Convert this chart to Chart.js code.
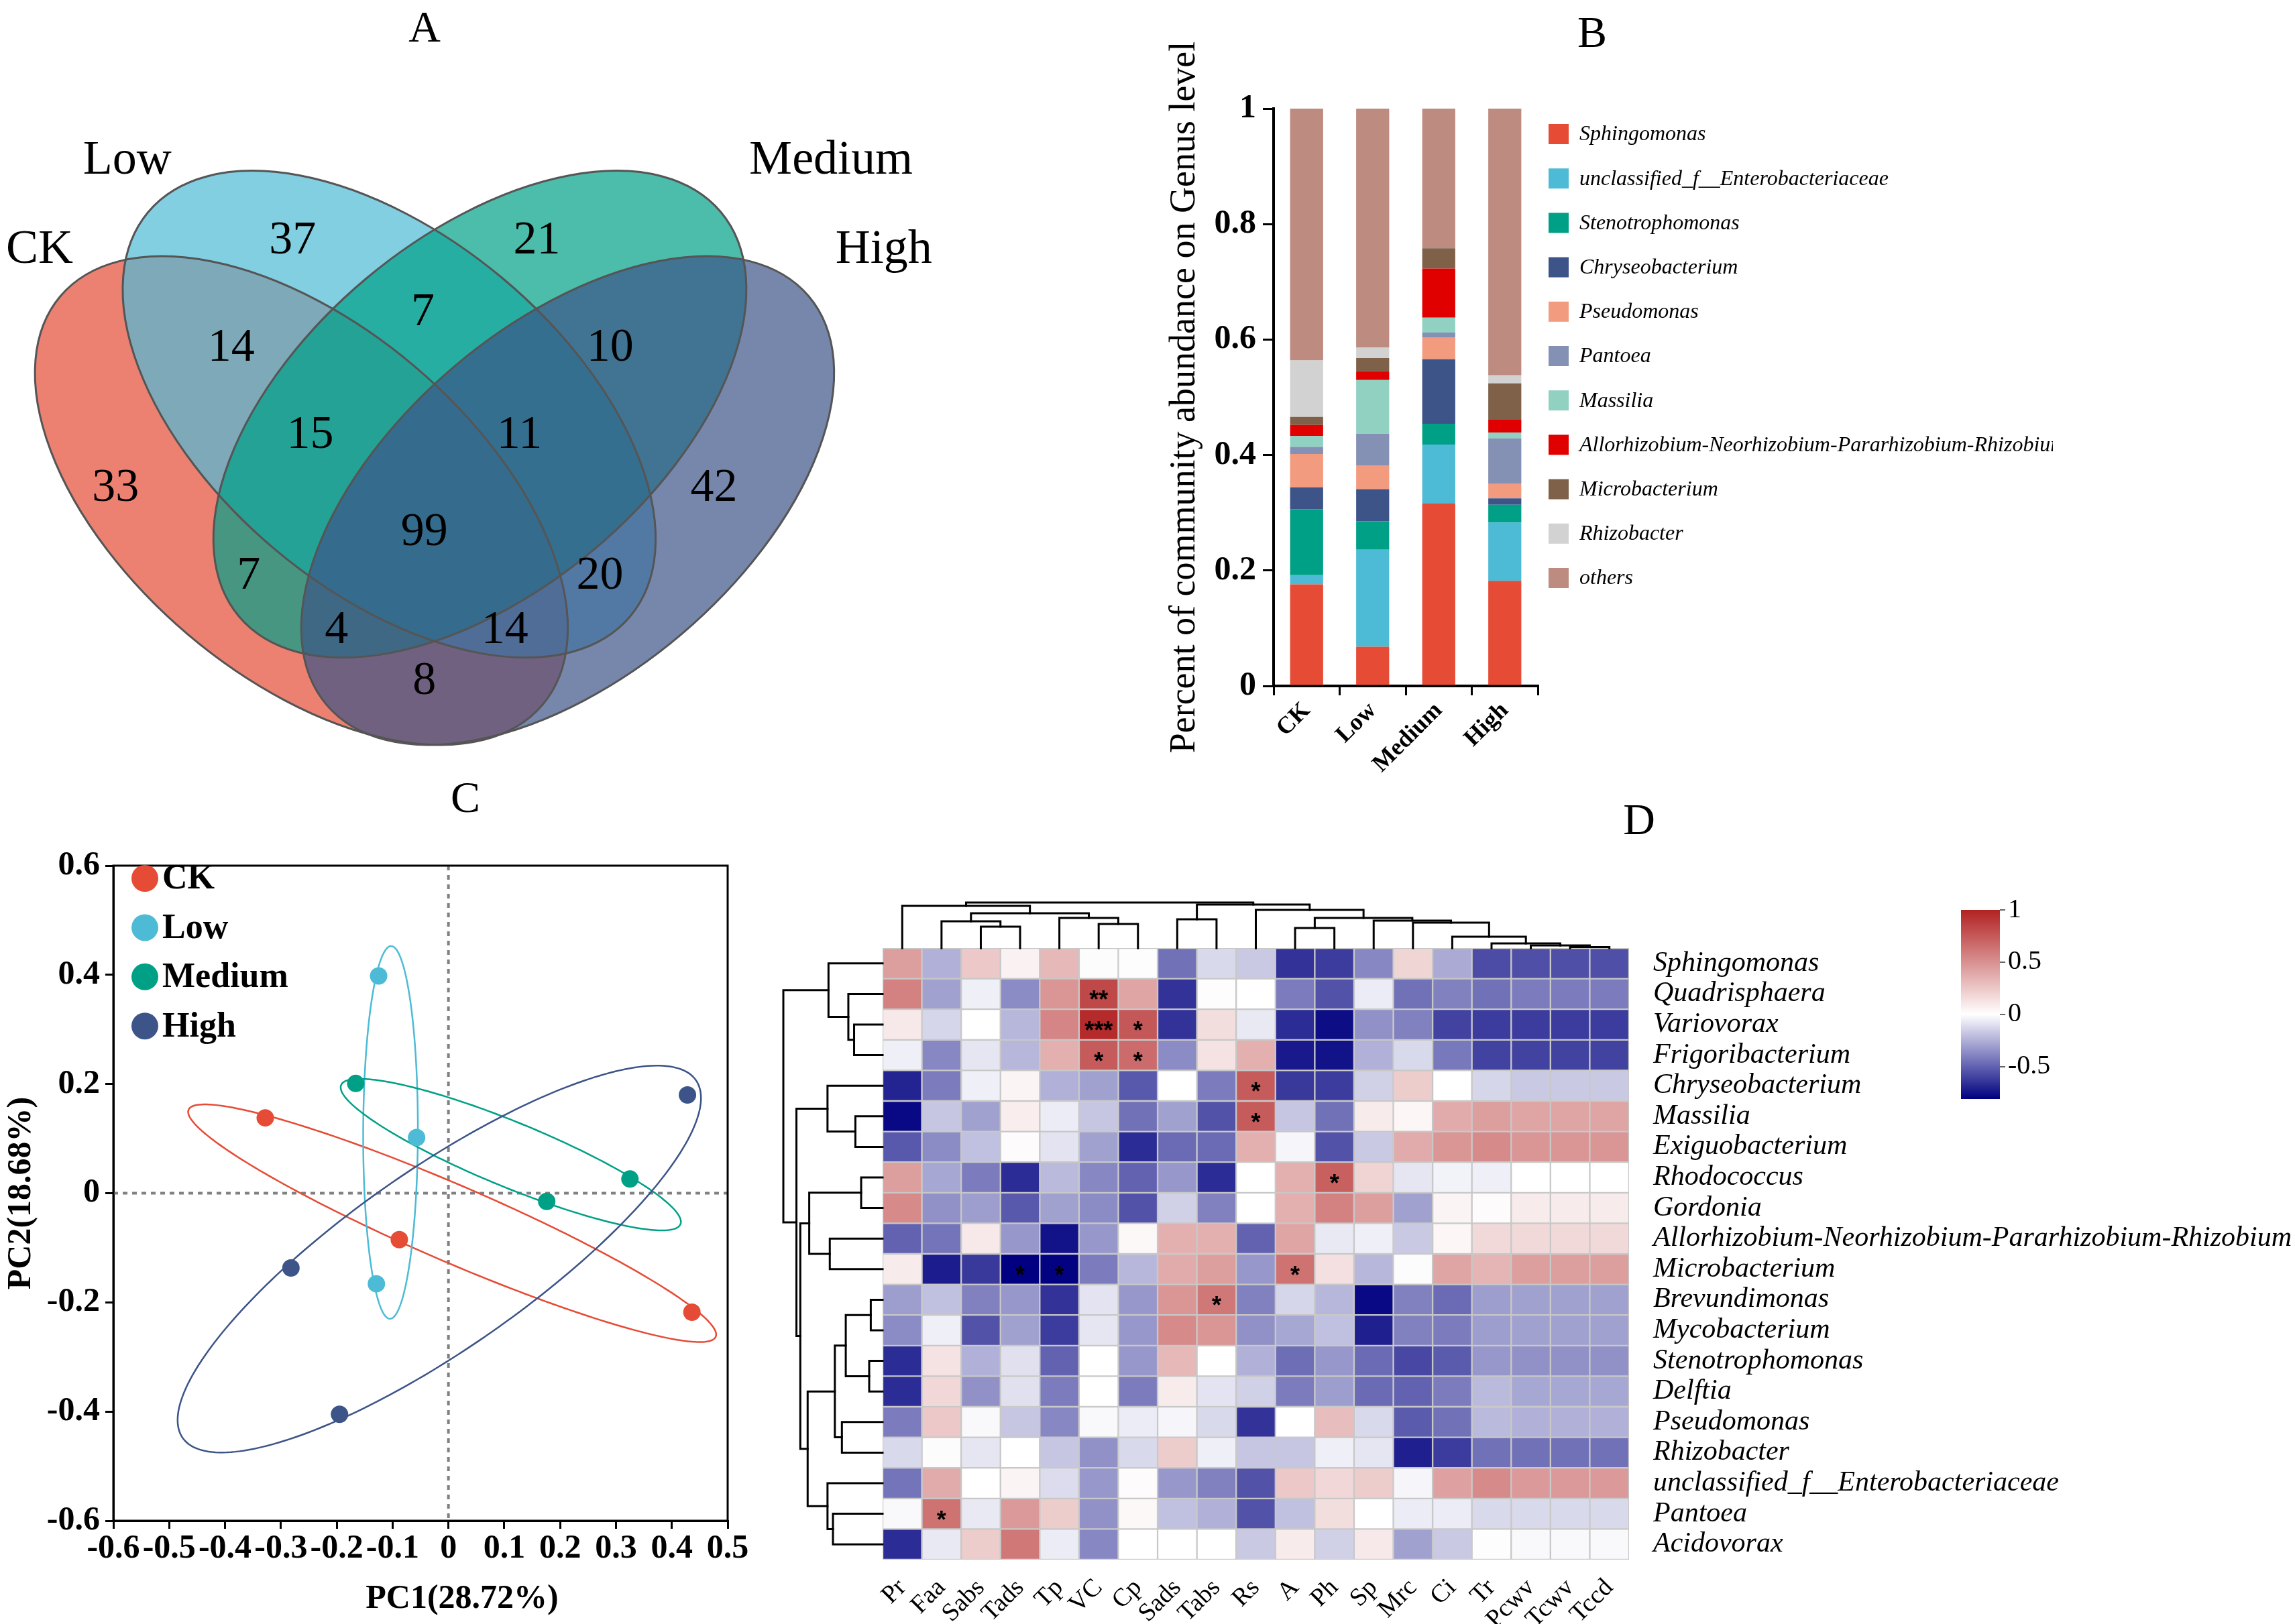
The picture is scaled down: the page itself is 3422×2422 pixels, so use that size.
<!DOCTYPE html>
<html>
<head>
<meta charset="utf-8">
<script src="https://cdn.jsdelivr.net/npm/chart.js@4.4.1/dist/chart.umd.min.js"></script>
<style>
  html, body { margin: 0; padding: 0; background: #fff; }
  body { position: relative; width: 3422px; height: 2422px; overflow: hidden; }
  canvas { position: absolute; }
  .tag { position: absolute; font: 66px "Liberation Serif", serif; transform: translate(-50%, -50%); }
</style>
</head>
<body>
<div class="tag" style="left:633px;top:40px">A</div>
<div class="tag" style="left:2374px;top:48px">B</div>
<div class="tag" style="left:694px;top:1189px">C</div>
<div class="tag" style="left:2444px;top:1222px">D</div>
<script>
// ---------- A : Venn ----------
const vennSets = ["CK", "Low", "Medium", "High"];
const vennRegions = ["Low", "Medium", "Low&Medium", "CK&Low", "Medium&High", "CK&Low&Medium", "Low&Medium&High",
  "CK", "High", "CK&Low&Medium&High", "CK&Medium", "Low&High", "CK&Medium&High", "CK&Low&High", "CK&High"];
const vennCounts = [37, 21, 7, 14, 10, 15, 11, 33, 42, 99, 7, 20, 4, 14, 8];

// ---------- B : genus composition ----------
const groups = ["CK", "Low", "Medium", "High"];
const genera = ["Sphingomonas", "unclassified_f__Enterobacteriaceae", "Stenotrophomonas", "Chryseobacterium",
  "Pseudomonas", "Pantoea", "Massilia", "Allorhizobium-Neorhizobium-Pararhizobium-Rhizobium",
  "Microbacterium", "Rhizobacter", "others"];
const sphingomonas = [0.176, 0.068, 0.316, 0.182];
const unclassifiedEntero = [0.016, 0.168, 0.102, 0.101];
const stenotrophomonas = [0.114, 0.049, 0.036, 0.031];
const chryseobacterium = [0.038, 0.056, 0.112, 0.011];
const pseudomonas = [0.058, 0.041, 0.038, 0.025];
const pantoea = [0.012, 0.055, 0.008, 0.079];
const massilia = [0.019, 0.093, 0.026, 0.010];
const allorhizobium = [0.019, 0.015, 0.085, 0.023];
const microbacterium = [0.014, 0.023, 0.035, 0.062];
const rhizobacter = [0.098, 0.018, 0.0, 0.014];
const others = [0.436, 0.414, 0.242, 0.462];
const abundance = [sphingomonas, unclassifiedEntero, stenotrophomonas, chryseobacterium, pseudomonas,
  pantoea, massilia, allorhizobium, microbacterium, rhizobacter, others];
const barTicks = [0, 0.2, 0.4, 0.6, 0.8, 1];

// ---------- C : PCA ----------
const pcCK = [[-0.328, 0.138], [-0.088, -0.085], [0.436, -0.218]];
const pcLow = [[-0.125, 0.398], [-0.057, 0.102], [-0.129, -0.166]];
const pcMedium = [[-0.166, 0.201], [0.176, -0.015], [0.325, 0.026]];
const pcHigh = [[0.428, 0.180], [-0.282, -0.137], [-0.195, -0.405]];
const pcTicksX = [-0.6, -0.5, -0.4, -0.3, -0.2, -0.1, 0, 0.1, 0.2, 0.3, 0.4, 0.5];
const pcTicksY = [-0.6, -0.4, -0.2, 0, 0.2, 0.4, 0.6];

// ---------- D : correlation heatmap ----------
const heatFactors = ["Pr", "Faa", "Sabs", "Tads", "Tp", "VC", "Cp", "Sads", "Tabs", "Rs", "A", "Ph", "Sp", "Mrc", "Ci", "Tr", "Pcwv", "Tcwv", "Tccd"];
const heatGenera = ["Sphingomonas", "Quadrisphaera", "Variovorax", "Frigoribacterium", "Chryseobacterium", "Massilia",
  "Exiguobacterium", "Rhodococcus", "Gordonia", "Allorhizobium-Neorhizobium-Pararhizobium-Rhizobium", "Microbacterium",
  "Brevundimonas", "Mycobacterium", "Stenotrophomonas", "Delftia", "Pseudomonas", "Rhizobacter",
  "unclassified_f__Enterobacteriaceae", "Pantoea", "Acidovorax"];
const heatValues = [
  [0.44, -0.25, 0.25, 0.06, 0.32, -0.01, 0.01, -0.45, -0.12, -0.17, -0.65, -0.62, -0.38, 0.19, -0.27, -0.57, -0.56, -0.56, -0.56],
  [0.57, -0.30, -0.05, -0.37, 0.48, 0.83, 0.41, -0.65, 0.01, 0.0, -0.42, -0.55, -0.06, -0.45, -0.40, -0.45, -0.42, -0.42, -0.42],
  [0.10, -0.13, 0.0, -0.23, 0.55, 0.96, 0.76, -0.65, 0.15, -0.07, -0.67, -0.77, -0.35, -0.40, -0.60, -0.62, -0.62, -0.62, -0.62],
  [-0.05, -0.38, -0.08, -0.23, 0.36, 0.74, 0.67, -0.37, 0.13, 0.36, -0.73, -0.75, -0.25, -0.12, -0.43, -0.60, -0.60, -0.60, -0.60],
  [-0.70, -0.42, -0.05, 0.05, -0.25, -0.30, -0.53, 0.0, -0.42, 0.74, -0.63, -0.62, -0.15, 0.23, 0.0, -0.13, -0.17, -0.17, -0.17],
  [-0.78, -0.18, -0.30, 0.08, -0.06, -0.18, -0.45, -0.30, -0.55, 0.74, -0.18, -0.45, 0.09, 0.04, 0.38, 0.44, 0.41, 0.41, 0.41],
  [-0.53, -0.37, -0.20, 0.02, -0.09, -0.30, -0.67, -0.47, -0.47, 0.36, -0.03, -0.55, -0.17, 0.38, 0.48, 0.53, 0.48, 0.48, 0.48],
  [0.44, -0.28, -0.42, -0.67, -0.22, -0.38, -0.50, -0.33, -0.67, 0.0, 0.36, 0.72, 0.20, -0.08, -0.04, -0.05, 0.0, 0.0, 0.0],
  [0.53, -0.35, -0.31, -0.53, -0.30, -0.37, -0.55, -0.15, -0.40, 0.0, 0.36, 0.57, 0.44, -0.30, 0.05, 0.02, 0.09, 0.09, 0.09],
  [-0.50, -0.44, 0.10, -0.33, -0.75, -0.33, 0.03, 0.36, 0.36, -0.50, 0.41, -0.07, -0.05, -0.17, 0.04, 0.17, 0.17, 0.17, 0.17],
  [0.09, -0.72, -0.63, -0.81, -0.80, -0.42, -0.23, 0.38, 0.44, -0.33, 0.64, 0.14, -0.23, -0.01, 0.41, 0.34, 0.44, 0.44, 0.44],
  [-0.31, -0.20, -0.40, -0.33, -0.65, -0.09, -0.33, 0.48, 0.61, -0.40, -0.13, -0.23, -0.78, -0.40, -0.47, -0.31, -0.30, -0.30, -0.30],
  [-0.37, -0.05, -0.55, -0.30, -0.62, -0.08, -0.33, 0.53, 0.48, -0.35, -0.28, -0.20, -0.71, -0.40, -0.42, -0.31, -0.30, -0.30, -0.30],
  [-0.67, 0.13, -0.25, -0.10, -0.50, 0.0, -0.33, 0.32, 0.0, -0.25, -0.46, -0.33, -0.47, -0.58, -0.52, -0.33, -0.35, -0.35, -0.35],
  [-0.67, 0.18, -0.35, -0.10, -0.42, 0.0, -0.42, 0.09, -0.09, -0.15, -0.42, -0.31, -0.47, -0.50, -0.42, -0.22, -0.28, -0.28, -0.28],
  [-0.42, 0.25, -0.02, -0.18, -0.38, -0.02, -0.06, -0.03, -0.12, -0.65, 0.0, 0.30, -0.12, -0.52, -0.45, -0.22, -0.25, -0.25, -0.25],
  [-0.12, -0.01, -0.08, 0.0, -0.18, -0.35, -0.12, 0.23, -0.05, -0.18, -0.18, -0.05, -0.08, -0.71, -0.62, -0.45, -0.45, -0.45, -0.45],
  [-0.44, 0.38, 0.0, 0.05, -0.11, -0.33, 0.02, -0.33, -0.40, -0.55, 0.25, 0.18, 0.23, -0.03, 0.43, 0.53, 0.46, 0.46, 0.46],
  [-0.02, 0.64, -0.07, 0.46, 0.23, -0.35, 0.03, -0.20, -0.25, -0.55, -0.20, 0.15, 0.0, -0.06, -0.06, -0.12, -0.12, -0.12, -0.12],
  [-0.67, -0.07, 0.23, 0.61, -0.06, -0.38, 0.0, 0.0, 0.0, -0.17, 0.09, -0.15, 0.10, -0.30, -0.17, 0.01, -0.02, -0.02, -0.02],
];
const heatStars = [
  ["Quadrisphaera", "VC", "**"], ["Variovorax", "VC", "***"], ["Variovorax", "Cp", "*"],
  ["Frigoribacterium", "VC", "*"], ["Frigoribacterium", "Cp", "*"], ["Chryseobacterium", "Rs", "*"],
  ["Massilia", "Rs", "*"], ["Rhodococcus", "Ph", "*"], ["Microbacterium", "Tads", "*"],
  ["Microbacterium", "Tp", "*"], ["Microbacterium", "A", "*"], ["Brevundimonas", "Tabs", "*"],
  ["Pantoea", "Faa", "*"],
];
// clustering trees: [height, left, right], leaves are indices
const colTree = [1.0,
  [0.926, 0, [0.765, [0.588, 1, [0.471, 2, 3]], [0.662, 4, [0.529, 5, 6]]]],
  [0.956, [0.632, 7, 8], [0.838, 9, [0.662, [0.441, 10, 11],
    [0.603, 12, [0.559, 13, [0.25, 14, [0.103, 15, [0.059, 16, [0.022, 17, 18]]]]]]]]]];
const rowTree = [1.0,
  [0.545, 0, [0.345, 1, [0.287, 2, 3]]],
  [0.868, [0.555, 4, [0.274, 5, 6]],
    [0.829, [0.739, [0.216, 7, 8], [0.532, 9, 10]],
      [0.755, [0.481, [0.371, [0.119, 11, 12], [0.135, 13, 14]], [0.41, 15, 16]],
        [0.555, 17, [0.5, 18, 19]]]]]];
const colorMin = -0.81, colorMax = 1;
const colorTicks = [-0.5, 0, 0.5, 1];

// ---------- layout / style ----------
const BOX = {
  venn: [0, 0, 1418, 1135],
  bars: [1730, 0, 1370, 1180],
  pca: [0, 1150, 1150, 1272],
  heat: [1150, 1280, 2272, 1142],
  cbar: [2900, 1320, 250, 360],
};
const vennColors = ["#E64B35", "#4DBBD5", "#00A087", "#3C5488"];
const vennShape = {
  CK: { cx: 206, cy: 342, a: 216, b: 120, rot: 40.3 },
  Low: { cx: 266, cy: 283, a: 215, b: 121, rot: 40 },
  Medium: { cx: 328, cy: 283, a: 215, b: 121, rot: -40 },
  High: { cx: 388, cy: 342, a: 216, b: 120, rot: -40.3 },
};
const vennNamePos = { CK: [27, 171], Low: [87, 110], Medium: [568, 110], High: [604, 171] };
const vennAnchor = {
  "Low": [200, 163], "Medium": [367, 163], "Low&Medium": [289, 212], "CK&Low": [158, 236],
  "Medium&High": [417, 236], "CK&Low&Medium": [212, 296], "Low&Medium&High": [355, 296],
  "CK": [79, 332], "High": [488, 332], "CK&Low&Medium&High": [290, 362], "CK&Medium": [170, 392],
  "Low&High": [410, 392], "CK&Medium&High": [230, 429], "CK&Low&High": [345, 429], "CK&High": [290, 464],
};
const barColors = ["#E64B35", "#4DBBD5", "#00A087", "#3C5488", "#F39B7F", "#8491B4", "#91D1C2",
  "#E00000", "#7E6148", "#D2D2D2", "#BD8B80"];
const pcColors = ["#E64B35", "#4DBBD5", "#00A087", "#3C5488"];
const ELLIPSE_SCALE = 1.21;
const SERIF = '"Liberation Serif", "Times New Roman", serif';

Chart.defaults.font.family = SERIF;
Chart.defaults.color = "#000";
Chart.defaults.animation = false;
Chart.defaults.responsive = false;
Chart.defaults.devicePixelRatio = 1;
Chart.defaults.events = [];
Chart.defaults.plugins.legend.display = false;
Chart.defaults.plugins.tooltip.enabled = false;

function Place(id, box) {
  const [left, top, w, h] = box;
  const c = document.createElement("canvas");
  c.id = id;
  c.width = w;
  c.height = h;
  c.style.left = left + "px";
  c.style.top = top + "px";
  c.style.width = w + "px";
  c.style.height = h + "px";
  document.body.appendChild(c);
  return c;
}

function Main() {
  SetVenn();
  SetBars();
  SetPca();
  SetHeatmap();
  SetColorBar();
}

function SetVenn() {
  const canvas = Place("venn", BOX.venn);
  new Chart(canvas, {
    type: "scatter",
    data: {
      datasets: [{ data: vennRegions.map((r) => ({ x: vennAnchor[r][0], y: vennAnchor[r][1] })), pointRadius: 0 }],
    },
    options: {
      scales: {
        x: { display: false, min: 0, max: 650 },
        y: { display: false, min: 0, max: 520, reverse: true },
      },
    },
    plugins: [{
      id: "vennShapes",
      beforeDatasetsDraw(chart) {
        const { ctx, scales: { x, y } } = chart;
        const k = x.getPixelForValue(1) - x.getPixelForValue(0);
        const path = (s) => {
          const e = vennShape[s];
          ctx.beginPath();
          ctx.ellipse(x.getPixelForValue(e.cx), y.getPixelForValue(e.cy), e.a * k, e.b * k, (e.rot * Math.PI) / 180, 0, Math.PI * 2);
        };
        ctx.save();
        ctx.globalAlpha = 0.7;
        vennSets.forEach((s, i) => {
          path(s);
          ctx.fillStyle = vennColors[i];
          ctx.fill();
        });
        ctx.globalAlpha = 1;
        ctx.strokeStyle = "#555";
        ctx.lineWidth = 3;
        vennSets.forEach((s) => {
          path(s);
          ctx.stroke();
        });
        ctx.fillStyle = "#000";
        ctx.textAlign = "center";
        ctx.textBaseline = "middle";
        ctx.font = "72px " + SERIF;
        vennSets.forEach((s) => ctx.fillText(s, x.getPixelForValue(vennNamePos[s][0]), y.getPixelForValue(vennNamePos[s][1])));
        ctx.restore();
      },
      afterDatasetsDraw(chart) {
        const { ctx } = chart;
        ctx.save();
        ctx.fillStyle = "#000";
        ctx.textAlign = "center";
        ctx.textBaseline = "middle";
        ctx.font = "70px " + SERIF;
        chart.getDatasetMeta(0).data.forEach((pt, i) => ctx.fillText(String(vennCounts[i]), pt.x, pt.y + 4));
        ctx.restore();
      },
    }],
  });
}

function SetBars() {
  const canvas = Place("bars", BOX.bars);
  new Chart(canvas, {
    type: "bar",
    data: {
      labels: groups,
      datasets: genera.map((g, i) => ({
        label: g,
        data: abundance[i],
        backgroundColor: barColors[i],
        borderWidth: 0,
        barPercentage: 1,
        categoryPercentage: 0.5,
      })),
    },
    options: {
      layout: { padding: { top: 162, right: 807, left: 0, bottom: 0 } },
      scales: {
        x: {
          stacked: true,
          grid: { drawOnChartArea: false, drawTicks: true, tickLength: 14, lineWidth: 3, color: "#000" },
          border: { color: "#000", width: 4 },
          ticks: { font: { size: 36, weight: "bold" }, minRotation: 45, maxRotation: 45, padding: 2, autoSkip: false },
          afterFit: (s) => { s.height = 157; },
        },
        y: {
          stacked: true,
          min: 0,
          max: 1,
          afterBuildTicks: (ax) => { ax.ticks = barTicks.map((v) => ({ value: v })); },
          grid: { drawOnChartArea: false, drawTicks: true, tickLength: 16, lineWidth: 3, color: "#000" },
          border: { color: "#000", width: 4 },
          ticks: { font: { size: 50, weight: "bold" }, padding: 10, callback: (v) => String(v) },
          title: { display: true, text: "Percent of community abundance on Genus level", font: { size: 54 }, padding: { top: 4, bottom: 0 } },
          afterFit: (s) => { s.width = 169; },
        },
      },
    },
    plugins: [{
      id: "barLegend",
      afterDraw(chart) {
        const { ctx } = chart;
        ctx.save();
        ctx.beginPath();
        ctx.rect(0, 0, 3061 - BOX.bars[0], chart.height);
        ctx.clip();
        ctx.textBaseline = "middle";
        ctx.font = "italic 32px " + SERIF;
        chart.data.datasets.forEach((ds, i) => {
          const y = 185 + i * 66.2;
          ctx.fillStyle = ds.backgroundColor;
          ctx.fillRect(579, y, 30, 30);
          ctx.fillStyle = "#000";
          ctx.fillText(ds.label, 625, y + 16);
        });
        ctx.restore();
      },
    }],
  });
}

function EllipseOf(pts) {
  const n = pts.length;
  const mx = pts.reduce((s, p) => s + p[0], 0) / n;
  const my = pts.reduce((s, p) => s + p[1], 0) / n;
  let sxx = 0, syy = 0, sxy = 0;
  pts.forEach(([px, py]) => {
    sxx += (px - mx) ** 2;
    syy += (py - my) ** 2;
    sxy += (px - mx) * (py - my);
  });
  sxx /= n - 1; syy /= n - 1; sxy /= n - 1;
  const tr = sxx + syy, det = sxx * syy - sxy * sxy;
  const d = Math.sqrt(Math.max(tr * tr / 4 - det, 0));
  const l1 = tr / 2 + d, l2 = Math.max(tr / 2 - d, 0);
  return { mx, my, ra: Math.sqrt(l1) * ELLIPSE_SCALE, rb: Math.sqrt(l2) * ELLIPSE_SCALE, ang: Math.atan2(l1 - sxx, sxy) };
}

function SetPca() {
  const canvas = Place("pca", BOX.pca);
  const sets = [pcCK, pcLow, pcMedium, pcHigh];
  new Chart(canvas, {
    type: "scatter",
    data: {
      datasets: sets.map((pts, i) => ({
        label: groups[i],
        data: pts.map(([x, y]) => ({ x, y })),
        backgroundColor: pcColors[i],
        borderWidth: 0,
        pointRadius: 13,
      })),
    },
    options: {
      layout: { padding: { top: 141, right: 65, left: 0, bottom: 0 } },
      scales: {
        x: {
          min: -0.6, max: 0.5,
          afterBuildTicks: (ax) => { ax.ticks = pcTicksX.map((v) => ({ value: v })); },
          grid: { drawOnChartArea: false, drawTicks: true, tickLength: 12, lineWidth: 3, color: "#000" },
          border: { color: "#000", width: 3 },
          ticks: { font: { size: 50, weight: "bold" }, maxRotation: 0, autoSkip: false, padding: 0, callback: (v) => String(v) },
          afterFit: (s) => { s.height = 154; },
        },
        y: {
          min: -0.6, max: 0.6,
          afterBuildTicks: (ax) => { ax.ticks = pcTicksY.map((v) => ({ value: v })); },
          grid: { drawOnChartArea: false, drawTicks: true, tickLength: 12, lineWidth: 3, color: "#000" },
          border: { color: "#000", width: 3 },
          ticks: { font: { size: 50, weight: "bold" }, padding: 8, callback: (v) => String(v) },
          title: { display: true, text: "PC2(18.68%)", font: { size: 50, weight: "bold" }, padding: { top: 2, bottom: 0 } },
          afterFit: (s) => { s.width = 169; },
        },
      },
    },
    plugins: [{
      id: "pcaDecor",
      beforeDatasetsDraw(chart) {
        const { ctx, chartArea: a, scales: { x, y } } = chart;
        ctx.save();
        ctx.strokeStyle = "#808080";
        ctx.lineWidth = 4;
        ctx.setLineDash([7, 7]);
        ctx.beginPath();
        ctx.moveTo(x.getPixelForValue(0), a.top);
        ctx.lineTo(x.getPixelForValue(0), a.bottom);
        ctx.moveTo(a.left, y.getPixelForValue(0));
        ctx.lineTo(a.right, y.getPixelForValue(0));
        ctx.stroke();
        ctx.setLineDash([]);
        ctx.lineWidth = 2.5;
        sets.forEach((pts, i) => {
          const e = EllipseOf(pts);
          ctx.strokeStyle = pcColors[i];
          ctx.beginPath();
          for (let s = 0; s <= 240; s++) {
            const t = (s / 240) * Math.PI * 2;
            const px = e.mx + e.ra * Math.cos(t) * Math.cos(e.ang) - e.rb * Math.sin(t) * Math.sin(e.ang);
            const py = e.my + e.ra * Math.cos(t) * Math.sin(e.ang) + e.rb * Math.sin(t) * Math.cos(e.ang);
            const X = x.getPixelForValue(px), Y = y.getPixelForValue(py);
            if (s === 0) ctx.moveTo(X, Y);
            else ctx.lineTo(X, Y);
          }
          ctx.stroke();
        });
        ctx.restore();
      },
      afterDraw(chart) {
        const { ctx, chartArea: a } = chart;
        ctx.save();
        ctx.strokeStyle = "#000";
        ctx.lineWidth = 3;
        ctx.strokeRect(a.left, a.top, a.right - a.left, a.bottom - a.top);
        ctx.textBaseline = "middle";
        ctx.font = "bold 52px " + SERIF;
        groups.forEach((g, i) => {
          const y = 160 + i * 73.4;
          ctx.fillStyle = pcColors[i];
          ctx.beginPath();
          ctx.arc(216, y, 20, 0, Math.PI * 2);
          ctx.fill();
          ctx.fillStyle = "#000";
          ctx.fillText(g, 242, y + 2);
        });
        ctx.textAlign = "center";
        ctx.font = "bold 50px " + SERIF;
        ctx.fillText("PC1(28.72%)", 689, 1235);
        ctx.restore();
      },
    }],
  });
}

function CellColor(v) {
  const end = v >= 0 ? [178, 34, 34] : [0, 0, 128];
  const t = Math.min(v >= 0 ? v / colorMax : v / colorMin, 1);
  const c = end.map((e) => Math.round(255 + (e - 255) * t));
  return `rgb(${c[0]},${c[1]},${c[2]})`;
}

function DrawTree(ctx, node, leafPos, hPos, top) {
  if (typeof node === "number") return [leafPos(node), 0];
  const [h, l, r] = node;
  const a = DrawTree(ctx, l, leafPos, hPos, top);
  const b = DrawTree(ctx, r, leafPos, hPos, top);
  const H = hPos(h);
  ctx.beginPath();
  if (top) {
    ctx.moveTo(a[0], hPos(a[1]));
    ctx.lineTo(a[0], H);
    ctx.lineTo(b[0], H);
    ctx.lineTo(b[0], hPos(b[1]));
  } else {
    ctx.moveTo(hPos(a[1]), a[0]);
    ctx.lineTo(H, a[0]);
    ctx.lineTo(H, b[0]);
    ctx.lineTo(hPos(b[1]), b[0]);
  }
  ctx.stroke();
  return [(a[0] + b[0]) / 2, h];
}

function SetHeatmap() {
  const canvas = Place("heat", BOX.heat);
  new Chart(canvas, {
    type: "bar",
    data: {
      labels: heatFactors,
      datasets: heatGenera.map((g, r) => ({
        label: g,
        data: heatFactors.map(() => 1),
        backgroundColor: heatValues[r].map(CellColor),
        borderColor: "#c8c8c8",
        borderWidth: 1.5,
        borderSkipped: false,
        barPercentage: 1,
        categoryPercentage: 1,
      })),
    },
    options: {
      layout: { padding: { left: 166, top: 134, right: 0, bottom: 0 } },
      scales: {
        x: {
          stacked: true,
          grid: { display: false },
          border: { display: false },
          ticks: { autoSkip: false, minRotation: 45, maxRotation: 45, padding: 12, font: { size: 38 } },
          afterFit: (s) => { s.height = 96; },
        },
        y: {
          type: "linear",
          position: "right",
          stacked: true,
          min: 0, max: heatGenera.length,
          reverse: true,
          afterBuildTicks: (ax) => { ax.ticks = heatGenera.map((_, i) => ({ value: i + 0.5 })); },
          grid: { display: false },
          border: { display: false },
          ticks: { autoSkip: false, padding: 28, font: { size: 42, style: "italic" }, callback: (v, i) => heatGenera[i] },
          afterFit: (s) => { s.width = 993; },
        },
      },
    },
    plugins: [{
      id: "heatDecor",
      afterDatasetsDraw(chart) {
        const { ctx, scales: { x, y } } = chart;
        ctx.save();
        ctx.fillStyle = "#000";
        ctx.textAlign = "center";
        ctx.textBaseline = "alphabetic";
        ctx.font = "bold 36px \"Liberation Sans\", sans-serif";
        heatStars.forEach(([g, f, mark]) => {
          const cx = x.getPixelForValue(heatFactors.indexOf(f));
          const cy = y.getPixelForValue(heatGenera.indexOf(g) + 0.5);
          ctx.fillText(mark, cx, cy + 21);
        });
        ctx.restore();
      },
      afterDraw(chart) {
        const { ctx, chartArea: a, scales: { x, y } } = chart;
        ctx.save();
        ctx.strokeStyle = "#000";
        ctx.lineWidth = 3;
        ctx.lineCap = "square";
        DrawTree(ctx, colTree, (i) => x.getPixelForValue(i), (h) => a.top - h * 68, true);
        DrawTree(ctx, rowTree, (i) => y.getPixelForValue(i + 0.5), (h) => a.left - h * 148, false);
        ctx.restore();
      },
    }],
  });
}

function SetColorBar() {
  const canvas = Place("cbar", BOX.cbar);
  new Chart(canvas, {
    type: "bar",
    data: {
      labels: [""],
      datasets: [{
        data: [[colorMin, colorMax]],
        borderWidth: 0,
        barPercentage: 1,
        categoryPercentage: 1,
        backgroundColor: (c) => {
          const { chart } = c;
          const ys = chart.scales.y;
          if (!chart.chartArea || !ys) return "rgba(0,0,0,0)";
          const g = chart.ctx.createLinearGradient(0, ys.getPixelForValue(colorMin), 0, ys.getPixelForValue(colorMax));
          for (let s = 0; s <= 20; s++) {
            const v = colorMin + ((colorMax - colorMin) * s) / 20;
            g.addColorStop(s / 20, CellColor(v));
          }
          g.addColorStop((0 - colorMin) / (colorMax - colorMin), "rgb(255,255,255)");
          return g;
        },
      }],
    },
    options: {
      layout: { padding: { left: 24, top: 37, right: 0, bottom: 41 } },
      scales: {
        x: { display: false },
        y: {
          position: "right",
          min: colorMin, max: colorMax,
          afterBuildTicks: (ax) => { ax.ticks = colorTicks.map((v) => ({ value: v })); },
          grid: { drawOnChartArea: false, drawTicks: true, tickLength: 8, lineWidth: 2, color: "#666" },
          border: { display: false },
          ticks: { font: { size: 40 }, padding: 4, callback: (v) => String(v) },
          afterFit: (s) => { s.width = 168; },
        },
      },
    },
  });
}

Main();
</script>
</body>
</html>
